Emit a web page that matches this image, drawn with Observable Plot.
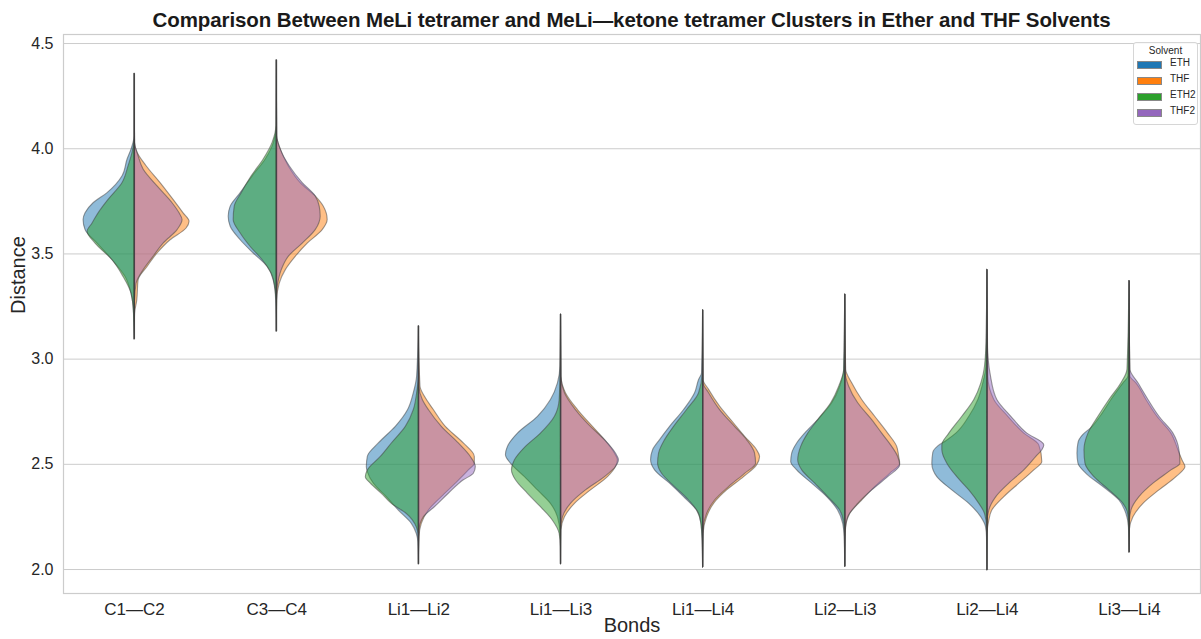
<!DOCTYPE html>
<html>
<head>
<meta charset="utf-8">
<script src="https://cdn.jsdelivr.net/npm/d3@7"></script>
<script src="https://cdn.jsdelivr.net/npm/@observablehq/plot@0.6"></script>
<style>
  body { margin: 0; background: #fff; font-family: "Liberation Sans", Arial, sans-serif; }
  #wrap { position: relative; width: 1201px; height: 639px; }
  #title { position: absolute; left: 63px; width: 1137px; top: 8px; text-align: center;
           font-weight: bold; font-size: 20.5px; color: #1a1a1a; white-space: nowrap; letter-spacing: -0.1px; }
  #chart { position: absolute; left: 0; top: 30px; }
  #legend { position: absolute; left: 1133px; top: 42px; width: 63px; height: 81px;
            border: 1px solid #d6d6d6; border-radius: 3px; background: rgba(255,255,255,0.85);
            font-size: 10px; color: #262626; }
  #legend .lt { text-align: center; margin-top: 2px; height: 14px; }
  #legend .row { position: absolute; left: 3px; height: 16px; }
  #legend .sw { position: absolute; left: 1px; top: 0; width: 23px; height: 6px; }
  #legend .lb { position: absolute; left: 33px; top: -5px; }
</style>
</head>
<body>
<div id="wrap">
  <div id="title">Comparison Between MeLi tetramer and MeLi—ketone tetramer Clusters in Ether and THF Solvents</div>
  <div id="chart"></div>
  <div id="legend"></div>
</div>
<script>
const bonds = ["C1—C2", "C3—C4", "Li1—Li2", "Li1—Li3", "Li1—Li4", "Li2—Li3", "Li2—Li4", "Li3—Li4"];
const solvents = ["ETH", "THF", "ETH2", "THF2"];
const solventColors = ["#1f77b4", "#ff7f0e", "#2ca02c", "#9467bd"];
const solventSide = [-1, 1, -1, 1];
const yTicks = [2.0, 2.5, 3.0, 3.5, 4.0, 4.5];

// extreme values of each bond (thin tails)
const tailMax = [4.356, 4.42, 3.156, 3.212, 3.232, 3.307, 3.424, 3.371];
const tailMin = [3.094, 3.131, 2.025, 2.025, 2.010, 2.013, 1.997, 2.081];

// density profiles [distance, relative density] per bond
const ethProfiles = [
  [[4.061,0],[3.997,3],[3.949,7],[3.869,12],[3.789,27],[3.741,41],[3.693,49],[3.661,51],[3.613,49],[3.549,37],[3.470,22],[3.390,9],[3.310,3],[3.230,0.7]],
  [[4.109,0],[4.029,2.7],[3.949,11],[3.869,24],[3.789,36],[3.725,46],[3.677,48],[3.629,46],[3.565,36],[3.502,23],[3.438,9],[3.374,3],[3.278,0.5]],
  [[2.917,1.7],[2.838,5],[2.758,10.7],[2.678,23],[2.599,40],[2.535,51],[2.487,52],[2.463,51],[2.408,45],[2.344,32],[2.280,20],[2.217,7],[2.169,2],[2.13,0.5]],
  [[2.965,0.5],[2.885,3],[2.806,10],[2.726,23],[2.646,43],[2.583,53],[2.543,55],[2.503,50],[2.439,36],[2.376,23],[2.312,10],[2.248,3],[2.169,0.5]],
  [[2.933,1],[2.901,4],[2.838,8],[2.758,19],[2.678,33],[2.615,43],[2.567,50],[2.519,52],[2.471,48],[2.408,33],[2.344,19],[2.280,6],[2.217,1.5],[2.137,0.5]],
  [[2.949,1],[2.869,5],[2.790,13],[2.710,27],[2.646,40],[2.599,48],[2.551,53],[2.511,54],[2.471,48],[2.408,33],[2.344,18],[2.280,7],[2.217,2],[2.153,0.5]],
  [[2.965,1],[2.885,4],[2.806,9],[2.726,18],[2.646,31],[2.610,41],[2.585,49],[2.555,54],[2.503,55],[2.439,50],[2.376,35],[2.312,18],[2.248,6],[2.201,1.3],[2.15,0.3]],
  [[2.917,1],[2.885,6],[2.806,18],[2.726,29],[2.672,38],[2.640,46],[2.600,51],[2.550,52],[2.503,51],[2.455,43],[2.392,26],[2.328,10],[2.264,3],[2.2,0.5]]
];
const thfProfiles = [
  [[4.029,0.5],[3.981,3],[3.917,12],[3.837,26],[3.757,39],[3.693,49],[3.653,55],[3.621,52],[3.565,36],[3.502,23],[3.438,13],[3.374,4],[3.278,2.7],[3.214,0.5]],
  [[4.061,0.5],[3.997,4],[3.917,12],[3.837,24],[3.773,39],[3.725,47],[3.661,51],[3.613,46],[3.549,31],[3.486,19],[3.422,9],[3.358,3],[3.278,0.5]],
  [[2.869,1.7],[2.822,6],[2.758,15],[2.678,27],[2.599,45],[2.535,56],[2.503,56],[2.471,50],[2.408,37],[2.344,23],[2.280,10],[2.217,3],[2.153,0.7]],
  [[2.917,0.5],[2.838,5],[2.758,17],[2.678,32],[2.615,44],[2.551,54],[2.519,57],[2.487,55],[2.439,47],[2.376,30],[2.312,14],[2.248,4],[2.185,0.5]],
  [[2.901,0.5],[2.854,6],[2.774,17],[2.694,31],[2.631,42],[2.567,54],[2.535,57],[2.495,54],[2.439,41],[2.376,24],[2.312,11],[2.248,4],[2.169,0.5]],
  [[2.949,1],[2.885,7],[2.806,17],[2.726,30],[2.646,43],[2.583,52],[2.535,54],[2.503,55],[2.455,45],[2.392,30],[2.328,17],[2.264,5],[2.201,1],[2.137,0.3]],
  [[2.917,1],[2.806,7],[2.726,21],[2.646,37],[2.590,52],[2.511,55],[2.471,47],[2.408,32],[2.344,17],[2.280,5],[2.232,2],[2.17,0.3]],
  [[2.917,1],[2.885,7],[2.806,17],[2.726,28],[2.646,42],[2.567,49],[2.519,53],[2.487,56],[2.439,47],[2.376,30],[2.312,14],[2.248,4],[2.19,0.5]]
];
const eth2Profiles = [
  [[4.045,0],[3.981,2],[3.917,6],[3.837,12],[3.757,26],[3.693,36],[3.645,42],[3.605,47],[3.549,39],[3.470,22],[3.390,11],[3.310,3],[3.214,0.5]],
  [[4.109,0.3],[4.029,4],[3.949,13],[3.869,25],[3.789,35],[3.725,42],[3.661,43],[3.597,36],[3.533,26],[3.470,14],[3.406,5],[3.326,1],[3.246,0]],
  [[2.917,0],[2.838,1.7],[2.758,5],[2.678,13],[2.599,27],[2.535,38],[2.471,51],[2.439,53],[2.408,48],[2.360,37],[2.312,27],[2.264,12],[2.200,2],[2.153,0]],
  [[2.917,0.5],[2.806,1.3],[2.726,6],[2.646,20],[2.583,35],[2.519,46],[2.471,49],[2.424,45],[2.360,33],[2.296,20],[2.232,8],[2.169,1.3],[2.105,0]],
  [[2.933,0.5],[2.838,4],[2.758,16],[2.678,29],[2.615,38],[2.551,44],[2.503,45],[2.455,41],[2.392,28],[2.328,14],[2.264,4],[2.185,1],[2.105,0.3]],
  [[2.949,1],[2.869,6],[2.790,14],[2.710,27],[2.646,37],[2.583,44],[2.519,47],[2.471,43],[2.408,30],[2.344,17],[2.280,5],[2.217,1],[2.153,0.3]],
  [[3.124,0.5],[2.965,2.3],[2.885,6],[2.806,13],[2.726,25],[2.646,38],[2.590,45],[2.567,45],[2.503,40],[2.439,30],[2.376,18],[2.312,8],[2.264,2.3],[2.20,0.3]],
  [[2.949,2],[2.885,8],[2.806,20],[2.726,31],[2.646,41],[2.567,45],[2.503,44],[2.439,35],[2.376,20],[2.312,6],[2.264,1.3],[2.2,0.3]]
];
const thf2Profiles = [
  [[4.029,0.5],[3.965,4],[3.901,9],[3.821,23],[3.741,38],[3.693,45],[3.661,48],[3.613,43],[3.549,29],[3.486,19],[3.422,9],[3.358,2],[3.278,0.5]],
  [[4.061,0.5],[3.997,4],[3.917,13],[3.837,26],[3.773,39],[3.725,43],[3.677,44],[3.613,39],[3.549,26],[3.486,12],[3.422,5],[3.342,1],[3.278,0]],
  [[2.869,0.7],[2.806,4],[2.758,10],[2.678,23],[2.599,40],[2.535,52],[2.487,57],[2.455,55],[2.424,45],[2.360,30],[2.296,16],[2.248,5],[2.185,0.7]],
  [[2.917,0.5],[2.838,4],[2.758,15],[2.678,30],[2.615,44],[2.551,55],[2.519,58],[2.487,55],[2.439,44],[2.376,25],[2.312,10],[2.248,2],[2.185,0]],
  [[2.885,0.5],[2.838,6],[2.758,17],[2.678,32],[2.615,44],[2.551,52],[2.503,53],[2.455,42],[2.392,26],[2.328,12],[2.264,4],[2.185,0.5]],
  [[2.933,0.5],[2.869,4],[2.790,13],[2.710,27],[2.646,37],[2.583,47],[2.535,53],[2.495,55],[2.439,43],[2.376,27],[2.312,13],[2.248,3],[2.185,0.5]],
  [[3.076,0.5],[2.917,3.7],[2.806,10],[2.726,24],[2.646,40],[2.590,57],[2.567,55],[2.535,49],[2.471,37],[2.408,22],[2.344,9],[2.280,2],[2.22,0.3]],
  [[2.949,1],[2.885,9],[2.806,19],[2.726,30],[2.646,44],[2.567,50],[2.503,51],[2.471,42],[2.408,24],[2.344,10],[2.280,2],[2.22,0.3]]
];
const profilesBySolvent = [ethProfiles, thfProfiles, eth2Profiles, thf2Profiles];

// layout: density unit -> category units
const densityPerCategory = 142.125;

function rowsFor(si) {
  const rows = [];
  profilesBySolvent[si].forEach((prof, bi) => {
    const pts = [[tailMax[bi], 0], ...prof, [tailMin[bi], 0]];
    pts.sort((a, b) => a[0] - b[0]);
    for (const [d, w] of pts) rows.push({bond: bi, solvent: solvents[si], d, w});
  });
  return rows;
}

const violinMarks = solvents.map((s, si) => Plot.areaX(rowsFor(si), {
  y: "d",
  x1: r => r.bond,
  x2: r => r.bond + solventSide[si] * r.w / densityPerCategory,
  z: "bond",
  fill: solventColors[si],
  fillOpacity: 0.5,
  stroke: "#3d3d3d",
  strokeOpacity: 0.5,
  strokeWidth: 1.1,
  curve: "monotone-y"
}));

const tails = bonds.map((b, i) => ({bond: i, lo: tailMin[i], hi: tailMax[i]}));

const plot = Plot.plot({
  width: 1201,
  height: 609,
  marginTop: 4,
  marginBottom: 46,
  marginLeft: 63,
  marginRight: 1,
  style: {fontFamily: '"Liberation Sans", Arial, sans-serif', background: "transparent", overflow: "visible"},
  x: {domain: [-0.5, 7.5]},
  y: {domain: [1.886, 4.543]},
  marks: [
    Plot.gridY(yTicks, {stroke: "#cccccc", strokeOpacity: 1, strokeWidth: 1}),
    Plot.frame({stroke: "#cccccc", strokeWidth: 1.2}),
    ...violinMarks,
    Plot.ruleX(tails, {x: "bond", y1: "lo", y2: "hi", stroke: "#333333", strokeOpacity: 0.7, strokeWidth: 1}),
    Plot.axisY(yTicks, {tickSize: 0, tickPadding: 10, tickFormat: d3.format(".1f"), fontSize: 16, fill: "#262626", label: null}),
    Plot.axisX(d3.range(bonds.length), {tickSize: 0, tickPadding: 9, tickFormat: i => bonds[i], fontSize: 17, fill: "#262626", label: null}),
    Plot.text(["Distance"], {frameAnchor: "left", dx: -45, rotate: -90, fontSize: 20, fill: "#262626"}),
    Plot.text(["Bonds"], {frameAnchor: "bottom", dy: 38, fontSize: 20, fill: "#262626"})
  ]
});
document.getElementById("chart").appendChild(plot);

// legend
const lg = document.getElementById("legend");
const lt = document.createElement("div");
lt.className = "lt"; lt.textContent = "Solvent";
lg.appendChild(lt);
solvents.forEach((s, i) => {
  const row = document.createElement("div");
  row.className = "row";
  row.style.top = (19 + i * 16) + "px";
  const sw = document.createElement("div");
  sw.className = "sw";
  sw.style.background = solventColors[i];
  sw.style.outline = "0.5px solid #888";
  const lb = document.createElement("div");
  lb.className = "lb"; lb.textContent = s;
  row.appendChild(sw); row.appendChild(lb);
  lg.appendChild(row);
});
</script>
</body>
</html>
